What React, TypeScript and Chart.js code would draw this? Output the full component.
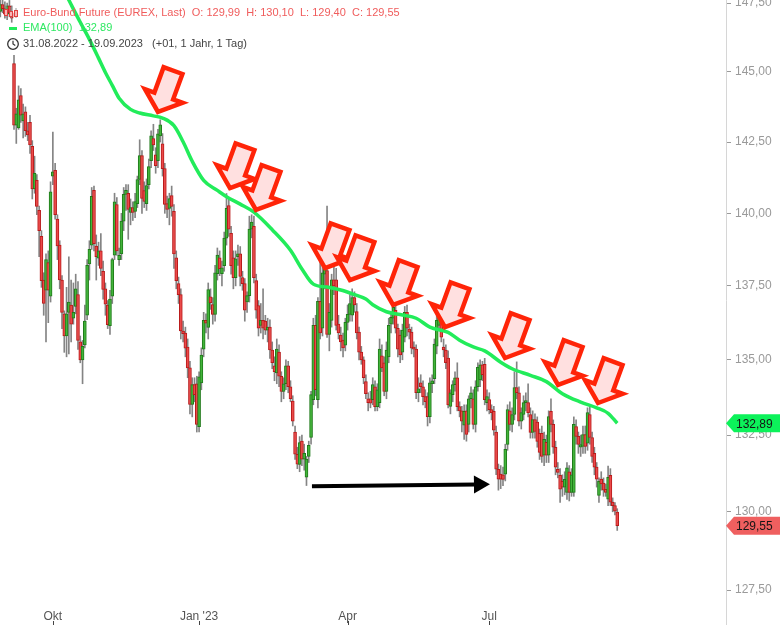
import React, { useEffect, useRef } from 'react';
import { Chart, registerables } from 'chart.js';

Chart.register(...registerables);

// ---------- DATA (daily candles, 31.08.2022 - 19.09.2023, index = trading day) ----------
const opens = [
  147.20,147.45,147.30,147.10,147.40,147.15,145.30,143.10,143.00,144.15,
  143.25,143.57,142.90,143.20,142.35,140.85,141.15,140.10,139.20,137.70,
  137.35,138.30,137.15,141.30,141.50,139.80,138.90,137.70,136.55,135.80,
  136.60,136.85,136.40,136.80,137.20,135.60,135.00,135.50,136.50,138.25,
  138.90,140.80,138.87,138.45,138.70,138.00,137.40,136.85,136.15,137.15,
  138.55,140.30,138.40,138.60,139.73,140.66,140.70,140.03,140.20,140.07,
  140.34,141.18,142.02,140.79,140.34,141.00,141.84,142.62,142.05,141.84,
  142.72,142.44,141.56,140.34,140.17,140.62,140.07,138.46,137.58,137.20,
  135.97,135.90,135.43,134.73,133.51,134.17,134.20,132.78,134.23,135.36,
  136.33,136.09,137.13,136.86,136.53,137.92,138.46,137.92,138.19,139.14,
  140.27,139.31,138.46,137.78,138.50,138.60,137.78,137.58,136.95,137.17,
  139.45,139.55,137.68,136.83,136.16,136.33,136.30,136.00,136.10,135.33,
  134.80,134.56,135.26,134.45,133.94,134.20,134.80,134.10,133.62,132.60,
  131.87,131.54,132.30,131.71,131.12,131.80,132.42,133.67,136.16,133.67,
  136.97,136.06,137.90,138.02,135.85,136.33,137.71,137.71,136.20,135.83,
  135.66,135.49,136.26,136.53,136.50,137.10,136.63,135.93,135.26,135.00,
  134.27,133.70,133.70,133.67,134.10,133.44,133.57,135.13,134.90,133.94,
  135.10,136.20,136.40,136.67,136.06,135.83,135.26,135.76,136.60,136.03,
  135.93,135.43,135.36,133.90,134.23,134.10,133.77,133.77,133.11,134.20,
  134.37,135.46,136.16,136.40,135.43,135.33,135.06,133.45,133.84,134.17,
  134.40,133.44,133.30,132.83,133.30,132.85,133.70,133.70,132.85,134.10,
  134.33,134.83,134.85,133.57,133.67,133.34,133.28,132.60,131.38,131.22,
  131.20,131.22,132.19,133.30,132.85,133.18,134.07,133.90,132.96,133.18,
  133.57,133.57,133.18,132.59,133.01,132.93,132.56,132.56,131.84,132.26,
  131.84,133.28,132.85,132.10,131.38,131.18,130.99,130.80,130.63,131.30,
  130.63,130.63,132.78,132.46,132.10,132.13,132.52,132.23,133.18,132.42,
  131.90,131.45,130.53,131.06,130.93,130.73,130.41,131.18,130.31,130.20,
  129.99,
];

const highs = [
  147.65,147.75,147.55,147.50,147.60,147.40,145.60,143.70,144.50,144.40,
  143.85,143.75,143.20,143.45,142.55,142.00,141.35,140.25,139.40,137.95,
  138.60,138.70,141.10,142.85,141.75,139.95,139.05,137.85,136.65,137.45,
  138.50,137.70,137.60,137.90,137.65,135.80,135.65,136.85,138.40,139.05,
  140.90,140.95,139.25,139.00,139.30,138.35,137.60,137.00,137.35,138.45,
  140.70,140.55,138.80,140.00,140.90,141.00,141.00,140.50,140.40,140.70,
  141.30,142.58,142.20,141.10,141.20,141.90,142.90,143.13,142.30,142.95,
  143.29,142.80,141.75,140.60,140.70,140.95,140.30,138.70,137.80,137.40,
  136.30,136.10,135.70,134.95,134.40,134.40,134.45,134.60,135.40,136.60,
  136.55,137.60,137.40,137.10,138.20,138.80,138.70,138.35,139.35,140.69,
  140.50,139.55,138.70,138.70,138.90,138.85,138.00,137.75,137.30,139.90,
  139.95,139.90,137.90,137.00,136.90,137.40,136.50,136.40,136.35,135.60,
  135.10,135.70,135.50,134.60,134.40,135.00,134.95,134.30,133.80,132.80,
  132.10,132.45,132.50,132.20,131.80,132.30,133.95,136.40,136.50,137.10,
  138.40,138.30,138.50,140.25,136.90,137.90,138.30,138.10,136.50,136.10,
  135.90,136.40,136.85,137.20,137.40,137.30,136.90,136.10,135.45,135.10,
  134.50,133.90,133.95,134.40,134.30,134.20,135.70,135.50,135.10,135.60,
  136.40,136.55,137.10,136.90,136.20,136.00,136.20,136.80,136.85,136.20,
  136.10,135.60,135.50,134.40,134.50,134.30,134.00,133.90,134.40,134.50,
  135.70,136.60,136.70,136.90,135.70,135.50,135.30,134.00,134.30,134.60,
  134.90,133.60,133.45,133.50,133.50,133.80,134.10,134.00,134.30,134.90,
  135.00,134.95,135.05,134.00,133.90,133.50,133.45,132.80,131.55,131.50,
  131.45,132.20,133.50,133.60,133.40,134.60,134.93,134.10,133.40,133.80,
  133.90,134.20,133.40,133.30,133.20,133.10,132.70,132.80,132.60,132.50,
  133.30,133.70,133.00,132.30,131.60,131.40,131.20,131.30,131.60,131.50,
  131.40,133.10,133.00,132.60,132.50,132.80,132.80,133.40,133.45,132.60,
  132.10,131.60,131.10,131.30,131.10,130.90,131.48,131.40,130.45,130.30,
  130.10,
];

const lows = [
  147.00,147.15,146.95,146.90,147.00,146.80,142.95,142.45,142.95,143.20,
  142.65,142.70,142.55,142.10,140.50,140.70,139.95,138.50,137.45,136.50,
  135.60,136.25,136.95,141.00,139.80,138.40,137.40,136.05,135.25,135.10,
  135.20,135.60,136.20,136.55,135.35,134.90,134.20,135.40,136.35,137.70,
  138.75,138.70,137.70,138.20,137.85,137.05,136.50,136.05,135.85,136.90,
  138.40,138.55,138.20,138.40,139.40,140.10,139.10,139.60,139.75,139.85,
  140.20,141.00,140.00,140.20,140.10,140.85,141.60,142.20,141.40,141.60,
  142.50,141.30,140.00,139.85,139.60,139.90,138.10,137.40,136.90,135.70,
  135.60,135.10,134.40,133.20,133.10,133.60,132.60,132.60,134.00,135.10,
  135.90,135.70,136.70,136.20,136.30,137.70,137.85,137.50,138.00,138.90,
  139.20,137.90,137.40,137.50,138.20,137.50,137.35,136.30,136.60,136.95,
  139.15,137.60,136.40,135.80,135.90,135.70,135.85,135.60,135.05,134.70,
  134.30,134.20,134.10,133.60,133.70,134.00,133.90,133.60,132.80,131.70,
  131.40,131.30,131.50,131.35,130.85,131.60,132.20,133.50,133.80,133.40,
  135.70,135.80,137.40,135.75,135.30,136.10,137.20,136.00,135.70,135.30,
  135.10,135.30,136.00,136.30,136.30,136.60,135.70,135.00,134.85,134.20,
  133.70,133.30,133.40,133.50,133.30,133.30,133.40,134.60,133.80,133.70,
  134.90,135.90,136.20,135.90,135.10,134.90,135.00,135.60,135.80,135.70,
  135.20,135.10,133.70,133.60,133.90,133.50,133.40,132.80,132.90,133.90,
  134.20,135.20,136.00,135.60,135.10,134.70,133.40,133.20,133.60,133.95,
  133.30,133.10,132.60,132.36,132.30,132.60,133.40,132.70,132.60,133.95,
  134.10,134.30,133.50,133.30,133.20,133.00,132.50,131.20,130.70,130.75,
  130.85,131.00,132.00,132.65,132.60,133.00,133.70,132.80,132.70,133.00,
  133.30,133.10,132.40,132.40,132.40,132.10,131.70,131.60,131.50,131.60,
  131.60,132.60,131.90,131.20,131.10,130.30,130.50,130.55,130.40,130.35,
  130.50,130.50,132.20,131.90,131.80,131.90,131.90,132.00,132.20,131.60,
  131.20,130.80,130.30,130.70,130.50,130.50,130.20,130.20,130.00,129.90,
  129.40,
];

const closes = [
  147.45,147.30,147.10,147.40,147.15,146.95,143.10,143.50,144.00,143.45,
  143.50,142.90,142.75,142.40,140.85,141.40,140.24,139.40,137.68,136.90,
  138.40,137.35,140.75,141.45,139.95,138.87,137.70,136.60,135.80,136.55,
  136.95,136.20,136.60,137.40,135.65,135.00,135.45,136.30,138.20,138.75,
  140.59,138.95,138.50,138.70,138.10,137.38,136.88,136.18,137.05,138.40,
  140.40,138.70,138.55,139.73,140.66,140.80,140.14,140.20,140.03,140.41,
  141.18,142.02,140.52,140.41,140.97,141.63,142.72,142.40,141.67,142.79,
  143.11,141.56,140.31,140.14,140.51,140.24,138.60,137.68,137.20,135.97,
  135.88,135.39,134.73,133.51,134.17,133.84,132.85,134.43,135.16,136.33,
  136.23,137.37,136.93,136.53,137.95,138.56,138.09,138.12,139.14,140.17,
  139.45,138.19,137.78,138.43,138.60,137.82,137.58,136.67,137.17,139.45,
  139.70,137.78,136.67,136.06,136.33,136.06,136.00,136.10,135.33,134.90,
  134.60,135.36,134.45,133.94,134.20,134.80,134.10,133.70,132.96,131.87,
  131.55,132.25,131.71,131.90,131.71,132.16,133.84,136.16,134.00,136.97,
  135.90,137.95,138.10,135.85,136.60,137.71,137.50,136.16,135.90,135.60,
  135.40,136.26,136.53,136.90,137.10,136.85,135.90,135.26,135.00,134.40,
  133.87,133.57,133.55,134.17,133.44,134.00,135.36,134.73,133.94,135.33,
  136.16,136.43,136.77,136.06,135.36,135.16,136.00,136.60,136.06,135.93,
  135.39,135.36,133.90,134.03,134.10,133.77,133.60,133.11,134.23,134.30,
  135.53,136.33,136.43,135.76,135.33,134.90,133.50,133.90,134.17,134.40,
  133.44,133.30,132.96,133.28,132.52,133.70,133.90,132.85,134.10,134.75,
  134.83,134.50,133.67,133.77,133.34,133.24,132.66,131.38,131.06,131.06,
  131.05,132.03,133.34,132.85,133.18,134.07,133.90,132.96,133.24,133.57,
  133.64,133.24,132.59,133.01,132.62,132.29,131.93,131.80,132.36,131.84,
  133.11,132.85,132.10,131.45,131.28,130.73,130.80,131.05,131.43,130.63,
  131.20,132.85,132.46,132.19,132.19,132.52,132.13,133.24,132.42,131.80,
  131.45,131.06,130.99,130.90,130.70,130.63,131.12,130.31,130.20,130.02,
  129.55,
];

const emaIndex = [25,31,35,39,43,46,49,52,57,61,67,71,76,80,84,89,95,99,105,111,119,127,132,137,143,149,154,160,163,169,176,182,188,196,201,207,212,219,224,232,239,246,254,261,266,270];
const emaValues = [148.45,147.45,146.80,146.18,145.50,144.98,144.52,144.06,143.66,143.53,143.43,143.35,143.08,142.51,141.82,141.15,140.80,140.58,140.32,140.04,139.43,138.72,138.08,137.56,137.46,137.36,137.23,137.05,136.86,136.62,136.51,136.40,136.10,135.92,135.66,135.43,135.30,134.92,134.70,134.48,134.27,133.87,133.59,133.40,133.22,132.89];

// Axis ticks
const monthTickIndex = [23, 87, 152, 214];
const monthTickLabels = ['Okt', "Jan '23", 'Apr', 'Jul'];
const priceTicks = [127.5, 130, 132.5, 135, 137.5, 140, 142.5, 145, 147.5];

// Annotations: red signal arrows (tip at trading day / price), black trend arrow
const signalArrowIndex = [69.0, 100.5, 111.9, 142.1, 153.0, 171.9, 194.6, 220.9, 244.1, 261.6];
const signalArrowPrice = [143.57, 140.88, 140.12, 138.11, 137.70, 136.85, 136.10, 135.06, 134.16, 133.56];
const trendArrowIndex = [136.4, 214.3];
const trendArrowPrice = [130.83, 130.89];

const instrumentName = 'Euro-Bund Future (EUREX, Last)';
const indicatorName = 'EMA(100)';
const periodText = '31.08.2022 - 19.09.2023';
const periodInfo = '(+01, 1 Jahr, 1 Tag)';

// ---------- STYLE ----------
const FONT = '"Liberation Sans", Arial, Helvetica, sans-serif';
const EMA_COLOR = '#22ec5a';
const UP_FILL = '#42b43a';
const UP_BORDER = '#1f7a1a';
const DOWN_FILL = '#ea4a4a';
const DOWN_BORDER = '#b81a1a';
const WICK = '#848484';

const fmt = (v: number) => v.toFixed(2).replace('.', ',');

function drawSignalArrow(ctx: CanvasRenderingContext2D, x: number, y: number) {
  ctx.save();
  ctx.translate(x, y);
  ctx.rotate((20 * Math.PI) / 180);
  ctx.beginPath();
  ctx.moveTo(0, 0);
  ctx.lineTo(20, -17);
  ctx.lineTo(10, -17);
  ctx.lineTo(10, -44);
  ctx.lineTo(-10, -44);
  ctx.lineTo(-10, -17);
  ctx.lineTo(-20, -17);
  ctx.closePath();
  ctx.fillStyle = '#ffe0e0';
  ctx.fill();
  ctx.lineWidth = 4.5;
  ctx.lineJoin = 'miter';
  ctx.strokeStyle = '#ff2408';
  ctx.stroke();
  ctx.restore();
}

function drawBadge(ctx: CanvasRenderingContext2D, y: number, text: string, color: string, left: number, right: number) {
  ctx.save();
  ctx.beginPath();
  ctx.moveTo(left, y);
  ctx.lineTo(left + 8, y - 9);
  ctx.lineTo(right, y - 9);
  ctx.lineTo(right, y + 9);
  ctx.lineTo(left + 8, y + 9);
  ctx.closePath();
  ctx.fillStyle = color;
  ctx.fill();
  ctx.fillStyle = '#151515';
  ctx.font = '12px ' + FONT;
  ctx.textBaseline = 'middle';
  ctx.textAlign = 'left';
  ctx.fillText(text, left + 10, y + 1);
  ctx.restore();
}

const overlayPlugin = {
  id: 'overlay',
  afterDatasetsDraw(chart: any) {
    const { ctx } = chart;
    const xs = chart.scales.x;
    const ys = chart.scales.y;
    // trend arrow
    const x1 = xs.getPixelForValue(trendArrowIndex[0]);
    const y1 = ys.getPixelForValue(trendArrowPrice[0]);
    const x2 = xs.getPixelForValue(trendArrowIndex[1]);
    const y2 = ys.getPixelForValue(trendArrowPrice[1]);
    const ang = Math.atan2(y2 - y1, x2 - x1);
    ctx.save();
    ctx.strokeStyle = '#000';
    ctx.fillStyle = '#000';
    ctx.lineWidth = 4;
    ctx.beginPath();
    ctx.moveTo(x1, y1);
    ctx.lineTo(x2 - 14 * Math.cos(ang), y2 - 14 * Math.sin(ang));
    ctx.stroke();
    ctx.translate(x2, y2);
    ctx.rotate(ang);
    ctx.beginPath();
    ctx.moveTo(0, 0);
    ctx.lineTo(-16, -9);
    ctx.lineTo(-16, 9);
    ctx.closePath();
    ctx.fill();
    ctx.restore();
    // signal arrows
    signalArrowIndex.forEach((idx, k) => {
      drawSignalArrow(ctx, xs.getPixelForValue(idx), ys.getPixelForValue(signalArrowPrice[k]));
    });
  },
  afterDraw(chart: any) {
    const { ctx, chartArea } = chart;
    const xs = chart.scales.x;
    const ys = chart.scales.y;
    ctx.save();
    const ax = Math.round(chartArea.right) + 0.5;
    ctx.strokeStyle = '#d6d6d6';
    ctx.lineWidth = 1;
    ctx.beginPath();
    ctx.moveTo(ax, chartArea.bottom);
    ctx.lineTo(ax, chart.height);
    ctx.stroke();
    ctx.strokeStyle = '#444';
    monthTickIndex.forEach((v) => {
      const px = Math.round(xs.getPixelForValue(v)) + 0.5;
      ctx.beginPath();
      ctx.moveTo(px, chart.height - 4);
      ctx.lineTo(px, chart.height);
      ctx.stroke();
    });
    ctx.restore();
    const last = closes.length - 1;
    drawBadge(ctx, ys.getPixelForValue(emaValues[emaValues.length - 1]), fmt(emaValues[emaValues.length - 1]), '#0cf25a', chartArea.right, chart.width);
    drawBadge(ctx, ys.getPixelForValue(closes[last]), fmt(closes[last]), '#ef5f5f', chartArea.right, chart.width);
  },
};

export default function App() {
  const canvasRef = useRef<HTMLCanvasElement | null>(null);

  useEffect(() => {
    const canvas = canvasRef.current;
    if (!canvas) return;
    Chart.defaults.font.family = FONT;
    const rising = closes.map((c, i) => c >= opens[i]);
    const chart = new Chart(canvas, {
      type: 'bar',
      data: {
        datasets: [
          {
            type: 'line',
            label: indicatorName,
            data: emaIndex.map((x, k) => ({ x, y: emaValues[k] })),
            borderColor: EMA_COLOR,
            borderWidth: 3.5,
            pointRadius: 0,
            cubicInterpolationMode: 'monotone',
            order: 0,
          } as any,
          {
            type: 'bar',
            label: 'body',
            data: opens.map((o, i) => ({ x: i, y: [o, closes[i]] })),
            backgroundColor: rising.map((u) => (u ? UP_FILL : DOWN_FILL)),
            borderColor: rising.map((u) => (u ? UP_BORDER : DOWN_BORDER)),
            borderWidth: 1,
            borderSkipped: false,
            barThickness: 3,
            grouped: false,
            order: 1,
          } as any,
          {
            type: 'bar',
            label: 'wick',
            data: lows.map((l, i) => ({ x: i, y: [l, highs[i]] })),
            backgroundColor: WICK,
            barThickness: 1,
            grouped: false,
            order: 2,
          } as any,
        ],
      },
      options: {
        responsive: false,
        animation: false,
        events: [],
        layout: { padding: 0, autoPadding: false } as any,
        plugins: { legend: { display: false }, tooltip: { enabled: false } },
        scales: {
          x: {
            type: 'linear',
            min: -0.13,
            max: 317.6,
            offset: false,
            grid: { display: false },
            border: { display: false },
            ticks: {
              autoSkip: false,
              maxRotation: 0,
              color: '#555',
              font: { size: 12 },
              padding: 1,
              callback: (v: any) => {
                const k = monthTickIndex.indexOf(Number(v));
                return k >= 0 ? monthTickLabels[k] : '';
              },
            },
            afterBuildTicks: (s: any) => {
              s.ticks = monthTickIndex.map((v) => ({ value: v }));
            },
            afterFit: (s: any) => {
              s.height = 25;
              s.paddingLeft = 0;
              s.paddingRight = 0;
            },
          },
          y: {
            type: 'logarithmic',
            position: 'right',
            min: 127.184,
            max: 147.615,
            bounds: 'data',
            grid: { drawOnChartArea: false, drawTicks: true, tickLength: 5, tickColor: '#9a9a9a' },
            border: { display: true, color: '#d6d6d6' },
            ticks: {
              autoSkip: false,
              color: '#9a9a9a',
              font: { size: 12 },
              padding: 4,
              callback: (v: any) => fmt(Number(v)),
            },
            afterBuildTicks: (s: any) => {
              s.ticks = priceTicks.map((v) => ({ value: v }));
            },
            afterFit: (s: any) => {
              s.width = 54;
              s.paddingTop = 0;
              s.paddingBottom = 0;
            },
          },
        } as any,
      },
      plugins: [overlayPlugin],
    } as any);
    return () => chart.destroy();
  }, []);

  const last = closes.length - 1;
  const line1 = `${instrumentName}  O: ${fmt(opens[last])}  H: ${fmt(highs[last])}  L: ${fmt(lows[last])}  C: ${fmt(closes[last])}`;
  const line2 = `${indicatorName}  ${fmt(emaValues[emaValues.length - 1])}`;
  const line3 = `${periodText}   ${periodInfo}`;

  return (
    <div style={{ position: 'absolute', left: 0, top: 0, width: 780, height: 625, overflow: 'hidden', background: '#fff' }}>
      <canvas ref={canvasRef} width={780} height={625} style={{ display: 'block', width: 780, height: 625 }} />
      <div style={{ position: 'absolute', left: 0, top: 0, fontFamily: FONT, fontSize: 11, lineHeight: '13px', pointerEvents: 'none' }}>
        <svg style={{ position: 'absolute', left: 4, top: 3 }} width="15" height="16">
          <line x1="2" y1="2" x2="2" y2="15" stroke="#999" strokeWidth="1" />
          <rect x="0.5" y="6.5" width="3" height="6" fill="#f6b6b6" stroke="#e04040" strokeWidth="1" />
          <line x1="7" y1="4" x2="7" y2="15" stroke="#999" strokeWidth="1" />
          <rect x="5.5" y="8.5" width="3" height="5" fill="#f6b6b6" stroke="#e04040" strokeWidth="1" />
          <line x1="12" y1="5" x2="12" y2="15" stroke="#999" strokeWidth="1" />
          <rect x="10.5" y="7.5" width="3" height="6" fill="#f6b6b6" stroke="#e04040" strokeWidth="1" />
        </svg>
        <div style={{ position: 'absolute', left: 23, top: 6, color: '#f05c5c', whiteSpace: 'pre' }}>{line1}</div>
        <div style={{ position: 'absolute', left: 9, top: 27, width: 8, height: 3, background: EMA_COLOR }} />
        <div style={{ position: 'absolute', left: 23, top: 21, color: '#2ee862', whiteSpace: 'pre' }}>{line2}</div>
        <svg style={{ position: 'absolute', left: 6, top: 37 }} width="14" height="14">
          <circle cx="7" cy="7" r="5.3" fill="#fff" stroke="#333" strokeWidth="1.3" />
          <path d="M7 3.8 L7 7 L9.3 8.6" fill="none" stroke="#333" strokeWidth="1.2" />
        </svg>
        <div style={{ position: 'absolute', left: 23, top: 37, color: '#444', whiteSpace: 'pre' }}>{line3}</div>
      </div>
    </div>
  );
}
